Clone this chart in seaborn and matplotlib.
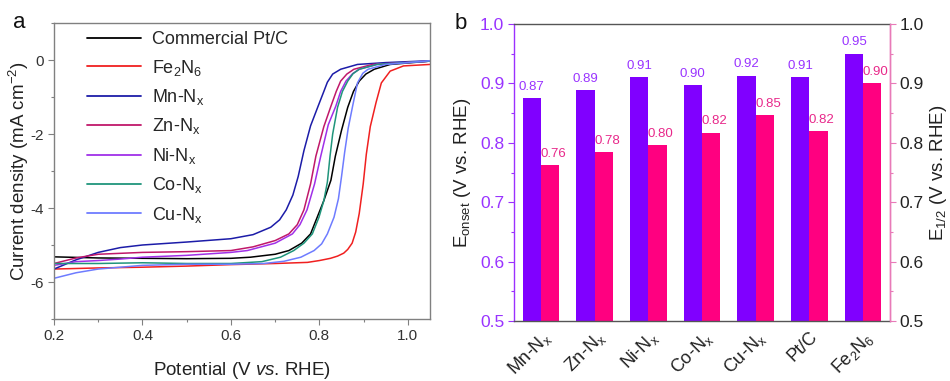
import numpy as np
import pandas as pd
import matplotlib
matplotlib.use("Agg")
import matplotlib.pyplot as plt
from matplotlib.ticker import MultipleLocator
import seaborn as sns

sns.set_theme(style="white")
plt.rcParams['font.family'] = ['Liberation Sans', 'DejaVu Sans']
plt.rcParams['mathtext.fontset'] = 'custom'
plt.rcParams['mathtext.rm'] = 'Liberation Sans'
plt.rcParams['mathtext.it'] = 'Liberation Sans:italic'
plt.rcParams['mathtext.bf'] = 'Liberation Sans:bold'
plt.rcParams['axes.unicode_minus'] = False

# ---------------- Panel a data (LSV curves) ----------------
pt_v = [0.20, 0.30, 0.40, 0.50, 0.60, 0.644, 0.70, 0.731, 0.76, 0.78, 0.795, 0.81, 0.826, 0.836, 0.85, 0.864, 0.877, 0.89, 0.905, 0.924, 0.96, 1.05]
pt_j = [-5.32, -5.35, -5.36, -5.37, -5.36, -5.33, -5.25, -5.15, -4.95, -4.70, -4.25, -3.80, -3.25, -2.60, -1.90, -1.28, -0.85, -0.57, -0.38, -0.25, -0.12, -0.03]

fe_v = [0.20, 0.30, 0.40, 0.50, 0.60, 0.70, 0.773, 0.80, 0.825, 0.841, 0.855, 0.864, 0.874, 0.882, 0.890, 0.899, 0.906, 0.915, 0.928, 0.94, 0.96, 0.99, 1.05]
fe_j = [-5.65, -5.62, -5.60, -5.57, -5.53, -5.50, -5.47, -5.42, -5.36, -5.30, -5.22, -5.12, -4.95, -4.65, -4.15, -3.35, -2.55, -1.80, -1.15, -0.62, -0.30, -0.16, -0.12]

mn_v = [0.20, 0.25, 0.30, 0.35, 0.40, 0.50, 0.60, 0.65, 0.69, 0.71, 0.725, 0.74, 0.752, 0.765, 0.78, 0.797, 0.81, 0.818, 0.83, 0.848, 0.886, 0.95, 1.05]
mn_j = [-5.65, -5.40, -5.20, -5.07, -5.00, -4.92, -4.83, -4.72, -4.52, -4.32, -4.05, -3.65, -3.15, -2.45, -1.78, -1.25, -0.85, -0.60, -0.38, -0.25, -0.12, -0.07, -0.02]

zn_v = [0.20, 0.25, 0.30, 0.40, 0.50, 0.60, 0.65, 0.70, 0.731, 0.75, 0.765, 0.78, 0.792, 0.81, 0.826, 0.838, 0.848, 0.862, 0.878, 0.92, 1.05]
zn_j = [-5.50, -5.35, -5.25, -5.20, -5.18, -5.15, -5.05, -4.88, -4.70, -4.45, -4.05, -3.35, -2.60, -1.80, -1.25, -0.85, -0.57, -0.38, -0.25, -0.12, -0.03]

ni_v = [0.20, 0.25, 0.30, 0.35, 0.40, 0.50, 0.60, 0.637, 0.70, 0.739, 0.756, 0.772, 0.789, 0.803, 0.82, 0.837, 0.848, 0.86, 0.875, 0.89, 0.93, 1.05]
ni_j = [-5.55, -5.45, -5.42, -5.38, -5.33, -5.28, -5.20, -5.15, -4.95, -4.70, -4.45, -4.05, -3.35, -2.60, -1.75, -1.25, -0.85, -0.57, -0.37, -0.25, -0.12, -0.03]

co_v = [0.20, 0.30, 0.40, 0.50, 0.60, 0.67, 0.712, 0.742, 0.765, 0.784, 0.799, 0.810, 0.818, 0.824, 0.830, 0.841, 0.852, 0.864, 0.876, 0.89, 0.93, 1.05]
co_j = [-5.50, -5.50, -5.48, -5.50, -5.50, -5.45, -5.33, -5.15, -4.95, -4.70, -4.25, -3.80, -3.30, -2.60, -2.00, -1.28, -0.85, -0.57, -0.37, -0.25, -0.12, -0.03]

cu_v = [0.20, 0.25, 0.30, 0.40, 0.50, 0.60, 0.674, 0.72, 0.758, 0.788, 0.805, 0.818, 0.833, 0.843, 0.850, 0.857, 0.865, 0.875, 0.886, 0.898, 0.91, 0.95, 1.05]
cu_j = [-5.90, -5.75, -5.65, -5.55, -5.52, -5.52, -5.50, -5.44, -5.33, -5.15, -4.97, -4.70, -4.25, -3.75, -3.15, -2.50, -1.85, -1.25, -0.62, -0.36, -0.25, -0.12, -0.02]

series_names = ['Commercial Pt/C', 'Fe$_2$N$_6$', 'Mn-N$_\\mathrm{x}$', 'Zn-N$_\\mathrm{x}$',
                'Ni-N$_\\mathrm{x}$', 'Co-N$_\\mathrm{x}$', 'Cu-N$_\\mathrm{x}$']
series_v = [pt_v, fe_v, mn_v, zn_v, ni_v, co_v, cu_v]
series_j = [pt_j, fe_j, mn_j, zn_j, ni_j, co_j, cu_j]
series_colors = ['#000000', '#F02020', '#1C1CA8', '#C0186A', '#A030E8', '#20957C', '#6E7CFF']

# ---------------- Panel b data ----------------
catalysts = ['Mn-N$_\\mathrm{x}$', 'Zn-N$_\\mathrm{x}$', 'Ni-N$_\\mathrm{x}$', 'Co-N$_\\mathrm{x}$',
             'Cu-N$_\\mathrm{x}$', 'Pt/C', 'Fe$_2$N$_6$']
e_onset = [0.875, 0.889, 0.910, 0.897, 0.913, 0.910, 0.950]
e_half = [0.762, 0.784, 0.796, 0.817, 0.847, 0.820, 0.900]
onset_labels = ['0.87', '0.89', '0.91', '0.90', '0.92', '0.91', '0.95']
half_labels = ['0.76', '0.78', '0.80', '0.82', '0.85', '0.82', '0.90']

purple = '#8000FF'
pink = '#FF0080'
purple_txt = '#9933FF'
pink_txt = '#E8288A'

fig = plt.figure(figsize=(9.5, 3.81), dpi=100)
axa = fig.add_axes([54/950, 1-319/381, 376/950, 296/381])
axb = fig.add_axes([514/950, 1-321/381, 376/950, 297/381])

# ---------- Panel a ----------
rows = []
for name, vs, js in zip(series_names, series_v, series_j):
    for v, j in zip(vs, js):
        rows.append((name, v, j))
dfa = pd.DataFrame(rows, columns=['sample', 'V', 'J'])
sns.lineplot(data=dfa, x='V', y='J', hue='sample', hue_order=series_names,
             palette=series_colors, sort=False, estimator=None, lw=1.1, ax=axa, legend=False)

axa.set_xlim(0.2, 1.05)
axa.set_ylim(-7, 1)
axa.xaxis.set_major_locator(MultipleLocator(0.2))
axa.xaxis.set_minor_locator(MultipleLocator(0.1))
axa.yaxis.set_minor_locator(MultipleLocator(1))
axa.set_yticks([0, -2, -4, -6])
axa.xaxis.set_major_formatter(matplotlib.ticker.FormatStrFormatter('%.1f'))
for s in axa.spines.values():
    s.set_color('#808080')
    s.set_linewidth(1.0)
axa.tick_params(axis='both', which='both', direction='out', color='#808080', labelsize=11,
                labelcolor='#333333', bottom=True, left=True, top=False, right=False)
axa.tick_params(which='major', length=4, width=0.8)
axa.tick_params(which='minor', length=2.5, width=0.8)
axa.set_xlabel('Potential (V $\\it{vs}$. RHE)', fontsize=13.5, color='#222222')
axa.set_ylabel('Current density (mA cm$^{-2}$)', fontsize=13.5, color='#222222')
axa.xaxis.set_label_coords(0.5, -0.14)
axa.yaxis.set_label_coords(-0.062, 0.5)

handles = [plt.Line2D([], [], color=c, lw=1.3) for c in series_colors]
axa.legend(handles, series_names, loc='upper left', bbox_to_anchor=(0.088, 0.972),
           frameon=False, fontsize=13, handlelength=3.0, handletextpad=0.6,
           labelspacing=0.52, borderpad=0, borderaxespad=0)
fig.text(13/950, 1-12/381, 'a', fontsize=16, va='top', ha='left', color='#111111')

# ---------- Panel b ----------
dfb = pd.DataFrame({
    'catalyst': catalysts * 2,
    'value': e_onset + e_half,
    'metric': ['onset'] * len(catalysts) + ['half'] * len(catalysts),
})
sns.barplot(data=dfb, x='catalyst', y='value', hue='metric', hue_order=['onset', 'half'],
            palette=[purple, pink], width=0.68, saturation=1, ax=axb, legend=False,
            edgecolor='none', linewidth=0)
axb.set_xlim(-0.5, len(catalysts) - 0.5)
axb.set_ylim(0.5, 1.0)
axb.yaxis.set_major_locator(MultipleLocator(0.1))
axb.yaxis.set_minor_locator(MultipleLocator(0.05))
axb.yaxis.set_major_formatter(matplotlib.ticker.FormatStrFormatter('%.1f'))
axb.set_xlabel('')
axb.set_ylabel('E$_{\\mathrm{onset}}$ (V vs. RHE)', fontsize=13.5, color='#222222')
axb.yaxis.set_label_coords(-0.108, 0.5)
axb.spines['left'].set_color('#9B30FF')
axb.spines['right'].set_color('#E87AB8')
axb.spines['top'].set_color('#555555')
axb.spines['bottom'].set_color('#555555')
for s in axb.spines.values():
    s.set_linewidth(1.0)
axb.tick_params(axis='y', which='both', direction='out', color='#9B30FF', labelcolor=purple_txt,
                labelsize=12.5, left=True, pad=3)
axb.tick_params(axis='y', which='major', length=4, width=0.8)
axb.tick_params(axis='y', which='minor', length=2.5, width=0.8)
axb.tick_params(axis='x', length=0, labelsize=13, labelcolor='#222222', pad=5)
plt.setp(axb.get_xticklabels(), rotation=45, ha='right', rotation_mode='anchor')

for container, labels, col, dx in zip(axb.containers, [onset_labels, half_labels],
                                      [purple_txt, pink_txt], [0.0, 0.06]):
    for bar, lab in zip(container, labels):
        axb.text(bar.get_x() + bar.get_width() / 2 + dx, bar.get_height() + 0.019, lab,
                 ha='center', va='center', fontsize=9.5, color=col)

axr = axb.twinx()
axr.set_ylim(0.5, 1.0)
axr.yaxis.set_major_locator(MultipleLocator(0.1))
axr.yaxis.set_minor_locator(MultipleLocator(0.05))
axr.yaxis.set_major_formatter(matplotlib.ticker.FormatStrFormatter('%.1f'))
for s in axr.spines.values():
    s.set_visible(False)
axr.spines['right'].set_visible(True)
axr.spines['right'].set_color('#E87AB8')
axr.spines['right'].set_linewidth(1.0)
axr.tick_params(axis='y', which='both', direction='out', color='#E87AB8', labelcolor='#222222',
                labelsize=12.5, right=True, pad=3)
axr.tick_params(axis='y', which='major', length=4, width=0.8)
axr.tick_params(axis='y', which='minor', length=2.5, width=0.8)
axr.set_ylabel('E$_{1/2}$ (V vs. RHE)', fontsize=13.5, color='#222222')
axr.yaxis.set_label_coords(1.102, 0.5)

fig.text(455/950, 1-13/381, 'b', fontsize=16, va='top', ha='left', color='#111111')

fig.savefig('out.png', dpi=100)
